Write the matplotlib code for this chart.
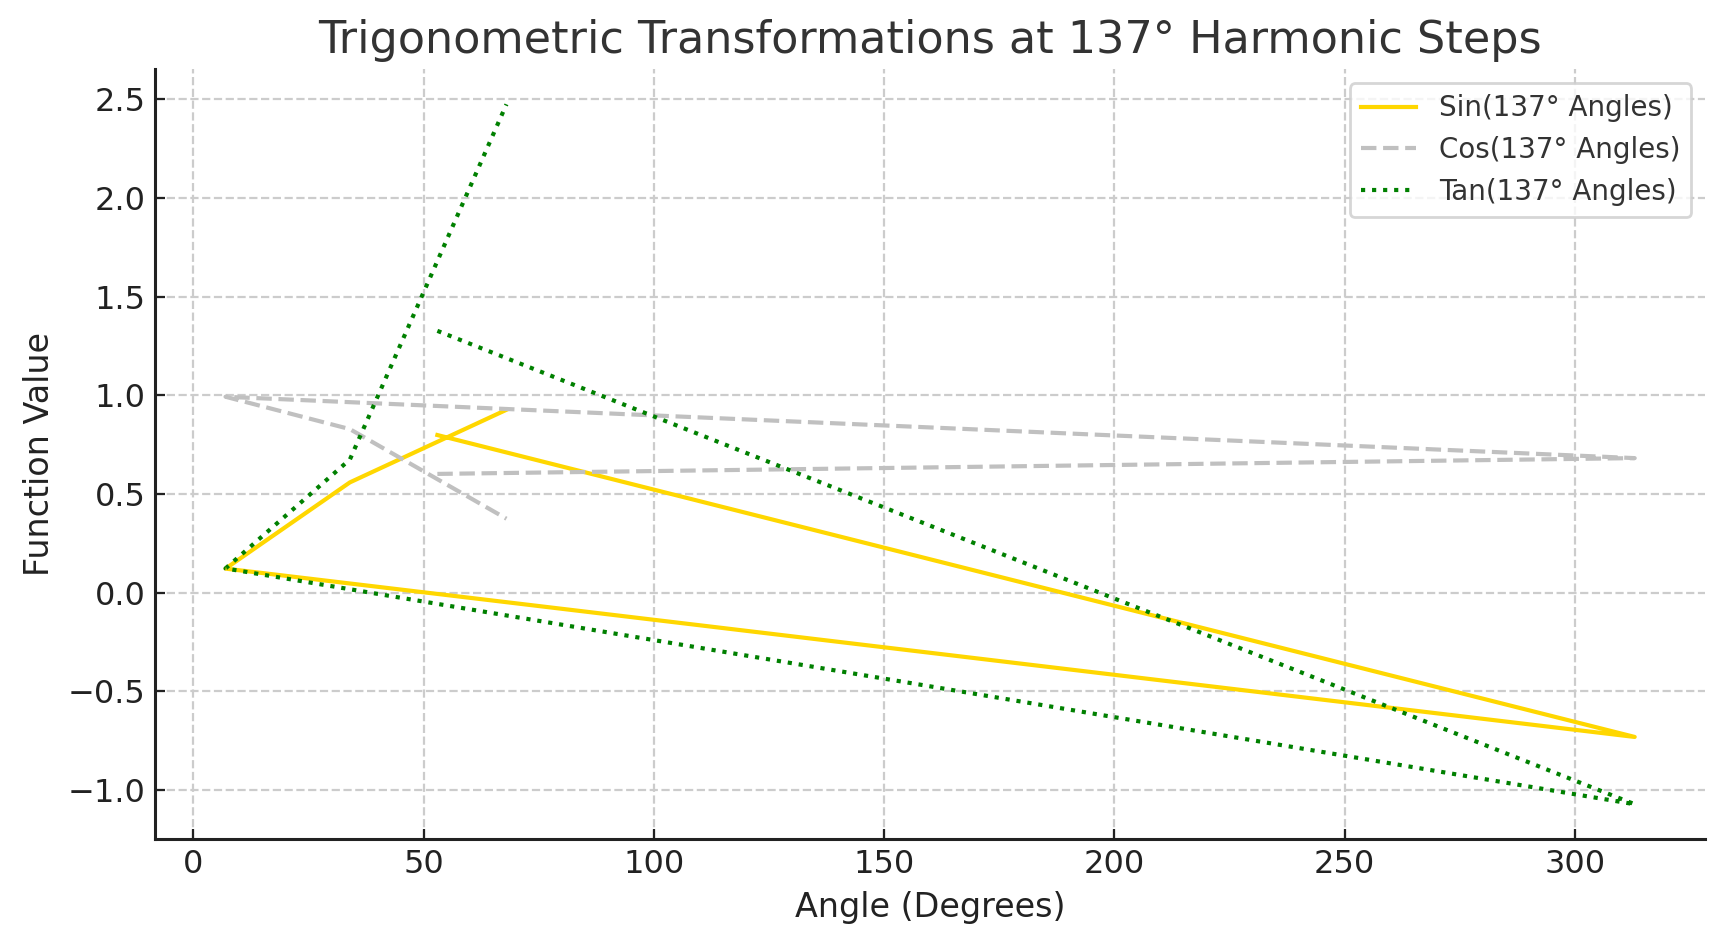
import matplotlib
matplotlib.use("Agg")
import matplotlib.pyplot as plt
import numpy as np

angles = [53, 313, 7, 34, 68]
sin_vals = [0.799, -0.731, 0.122, 0.559, 0.927]
cos_vals = [0.602, 0.682, 0.993, 0.829, 0.375]
tan_vals = [1.327, -1.072, 0.123, 0.675, 2.475]

fig, ax = plt.subplots(figsize=(8.625, 4.735), dpi=200)
fig.subplots_adjust(left=0.0899, right=0.9885, top=0.9268, bottom=0.1138)
ax.plot(angles, sin_vals, color='#FFD700', linestyle='-', linewidth=1.5, label='Sin(137° Angles)')
ax.plot(angles, cos_vals, color='#C0C0C0', linestyle='--', linewidth=1.5, label='Cos(137° Angles)')
ax.plot(angles, tan_vals, color='green', linestyle=':', linewidth=1.5, label='Tan(137° Angles)')

ax.set_title('Trigonometric Transformations at 137° Harmonic Steps', fontsize=16, color='#333333')
ax.set_xlabel('Angle (Degrees)', fontsize=12, color='#222222')
ax.set_ylabel('Function Value', fontsize=12, color='#222222')
ax.tick_params(labelsize=11.5, direction='in', colors='#222222')
ax.grid(True, linestyle='--', color='#cccccc', linewidth=0.8)
ax.spines['top'].set_visible(False)
ax.spines['right'].set_visible(False)
for s in ('left', 'bottom'):
    ax.spines[s].set_linewidth(1.1)
    ax.spines[s].set_color('#222222')
leg = ax.legend(loc='upper right', fontsize=10)
for t in leg.get_texts():
    t.set_color('#333333')
fig.savefig('out.png', dpi=200)
